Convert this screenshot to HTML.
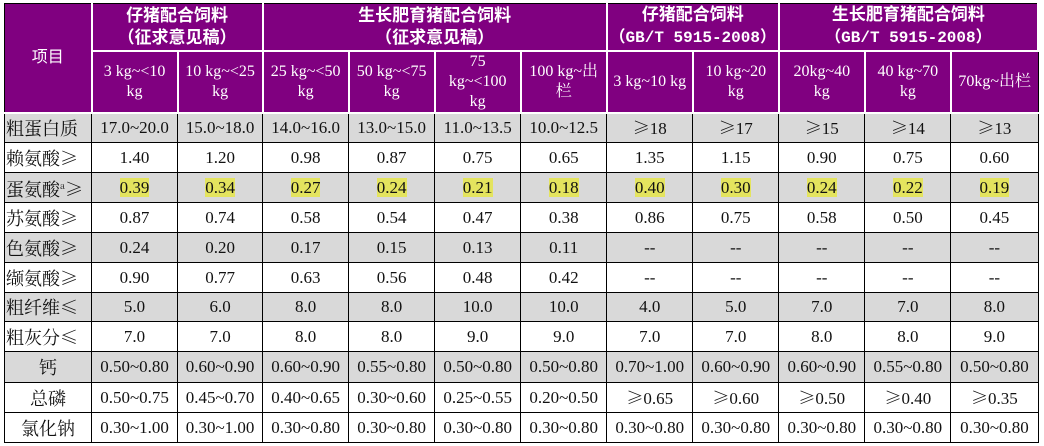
<!DOCTYPE html>
<html><head><meta charset="utf-8"><style>
html,body{margin:0;padding:0;background:#fff;width:1044px;height:446px;overflow:hidden}
table{position:absolute;left:4px;top:3px;border-collapse:collapse;table-layout:fixed;width:1035px;font-family:"Liberation Serif","Noto Serif CJK SC",serif;font-size:17px;color:#111}
td{border:1px solid #000;text-align:center;padding:0;overflow:hidden;white-space:nowrap;line-height:18px}
th{background:#800080;color:#fff;border:2px solid #fff;font-weight:normal;padding:0;line-height:20px;font-size:16px;white-space:nowrap;overflow:hidden}
th.g{font-family:"Liberation Sans","Noto Sans CJK SC",sans-serif;font-weight:bold;font-size:17px;line-height:22px}
th.g .m{font-family:"Liberation Mono","Noto Sans CJK SC",monospace;font-weight:bold;font-size:16px}
th.first{border-left:1px solid #000;border-top:1px solid #000;font-family:"Liberation Sans","Noto Sans CJK SC",sans-serif;font-size:16px;vertical-align:top;padding-top:44px}
tr.h1 th{border-top:1px solid #000}
tr.gr td{background:#d9d9d9}
td.l{text-align:left;padding-left:1px;font-size:18px;font-family:"Noto Serif CJK SC",serif}
td.c{font-size:18px;font-family:"Noto Serif CJK SC",serif}
.ge{font-family:"Noto Serif CJK SC",serif}
.y{background:#e4e45e}
</style></head><body>
<table>
<colgroup><col style="width:87px"><col style="width:86px"><col style="width:85px"><col style="width:86px"><col style="width:86px"><col style="width:86px"><col style="width:86px"><col style="width:86px"><col style="width:86px"><col style="width:86px"><col style="width:86px"><col style="width:87px"></colgroup>
<tr class="h1" style="height:47px"><th class="first" rowspan="2">项目</th><th class="g" colspan="2">仔猪配合饲料<br>（征求意见稿）</th><th class="g" colspan="4">生长肥育猪配合饲料<br>（征求意见稿）</th><th class="g" colspan="2">仔猪配合饲料<br><span class="m">（GB/T 5915-2008）</span></th><th class="g" colspan="3">生长肥育猪配合饲料<br><span class="m">（GB/T 5915-2008）</span></th></tr>
<tr style="height:62px"><th>3 kg~&lt;10<br>kg</th><th>10 kg~&lt;25<br>kg</th><th>25 kg~&lt;50<br>kg</th><th>50 kg~&lt;75<br>kg</th><th>75<br>kg~&lt;100<br>kg</th><th>100 kg~出<br>栏</th><th>3 kg~10 kg</th><th>10 kg~20<br>kg</th><th>20kg~40<br>kg</th><th>40 kg~70<br>kg</th><th style="border-right:1px solid #000">70kg~出栏</th></tr>
<tr class="gr" style="height:30px"><td class="l">粗蛋白质</td><td>17.0~20.0</td><td>15.0~18.0</td><td>14.0~16.0</td><td>13.0~15.0</td><td>11.0~13.5</td><td>10.0~12.5</td><td><span class="ge">≥</span>18</td><td><span class="ge">≥</span>17</td><td><span class="ge">≥</span>15</td><td><span class="ge">≥</span>14</td><td><span class="ge">≥</span>13</td></tr>
<tr style="height:30px"><td class="l">赖氨酸≥</td><td>1.40</td><td>1.20</td><td>0.98</td><td>0.87</td><td>0.75</td><td>0.65</td><td>1.35</td><td>1.15</td><td>0.90</td><td>0.75</td><td>0.60</td></tr>
<tr class="gr" style="height:30px"><td class="l">蛋氨酸<sup style="font-size:9px">a</sup>≥</td><td><span class="y">0.39</span></td><td><span class="y">0.34</span></td><td><span class="y">0.27</span></td><td><span class="y">0.24</span></td><td><span class="y">0.21</span></td><td><span class="y">0.18</span></td><td><span class="y">0.40</span></td><td><span class="y">0.30</span></td><td><span class="y">0.24</span></td><td><span class="y">0.22</span></td><td><span class="y">0.19</span></td></tr>
<tr style="height:30px"><td class="l">苏氨酸≥</td><td>0.87</td><td>0.74</td><td>0.58</td><td>0.54</td><td>0.47</td><td>0.38</td><td>0.86</td><td>0.75</td><td>0.58</td><td>0.50</td><td>0.45</td></tr>
<tr class="gr" style="height:30px"><td class="l">色氨酸≥</td><td>0.24</td><td>0.20</td><td>0.17</td><td>0.15</td><td>0.13</td><td>0.11</td><td>--</td><td>--</td><td>--</td><td>--</td><td>--</td></tr>
<tr style="height:30px"><td class="l">缬氨酸≥</td><td>0.90</td><td>0.77</td><td>0.63</td><td>0.56</td><td>0.48</td><td>0.42</td><td>--</td><td>--</td><td>--</td><td>--</td><td>--</td></tr>
<tr class="gr" style="height:29px"><td class="l">粗纤维≤</td><td>5.0</td><td>6.0</td><td>8.0</td><td>8.0</td><td>10.0</td><td>10.0</td><td>4.0</td><td>5.0</td><td>7.0</td><td>7.0</td><td>8.0</td></tr>
<tr style="height:30px"><td class="l">粗灰分≤</td><td>7.0</td><td>7.0</td><td>8.0</td><td>8.0</td><td>9.0</td><td>9.0</td><td>7.0</td><td>7.0</td><td>8.0</td><td>8.0</td><td>9.0</td></tr>
<tr class="gr" style="height:31px"><td class="c">钙</td><td>0.50~0.80</td><td>0.60~0.90</td><td>0.60~0.90</td><td>0.55~0.80</td><td>0.50~0.80</td><td>0.50~0.80</td><td>0.70~1.00</td><td>0.60~0.90</td><td>0.60~0.90</td><td>0.55~0.80</td><td>0.50~0.80</td></tr>
<tr style="height:30px"><td class="c">总磷</td><td>0.50~0.75</td><td>0.45~0.70</td><td>0.40~0.65</td><td>0.30~0.60</td><td>0.25~0.55</td><td>0.20~0.50</td><td><span class="ge">≥</span>0.65</td><td><span class="ge">≥</span>0.60</td><td><span class="ge">≥</span>0.50</td><td><span class="ge">≥</span>0.40</td><td><span class="ge">≥</span>0.35</td></tr>
<tr style="height:30px"><td class="c">氯化钠</td><td>0.30~1.00</td><td>0.30~1.00</td><td>0.30~0.80</td><td>0.30~0.80</td><td>0.30~0.80</td><td>0.30~0.80</td><td>0.30~0.80</td><td>0.30~0.80</td><td>0.30~0.80</td><td>0.30~0.80</td><td>0.30~0.80</td></tr>
</table>
</body></html>
